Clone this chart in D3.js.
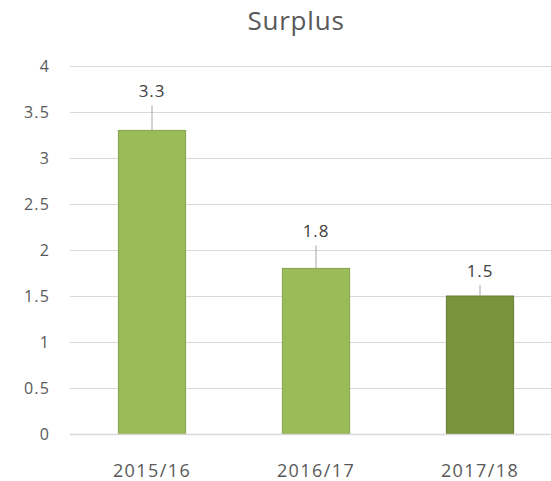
<!DOCTYPE html>
<html><head><meta charset="utf-8">
<script src="https://cdn.jsdelivr.net/npm/d3@7"></script>
<style>body{margin:0;background:#fff}svg{display:block}text{font-family:"Open Sans",sans-serif}</style>
</head><body>
<svg id="chart" width="551" height="481"></svg>
<script>
const categories = ["2015/16", "2016/17", "2017/18"];
const values = [3.3, 1.8, 1.5];
const yTicks = [0, 0.5, 1, 1.5, 2, 2.5, 3, 3.5, 4];
const barColors = ["#9BBB59", "#9BBB59", "#77933C"];
const labelLift = [33, 31, 19];

const FONT = "'Open Sans',sans-serif";
const svg = d3.select("#chart");
const x = d3.scaleBand().domain(categories).range([70, 562]).paddingInner(0.59).paddingOuter(0.295);
const y = d3.scaleLinear().domain([0, 4]).range([434, 66]);

svg.append("text").attr("x", 296).attr("y", 30).attr("text-anchor", "middle")
  .attr("font-size", 26).attr("letter-spacing", 0.8).attr("fill", "#595959").text("Surplus");

const grid = svg.append("g").attr("transform", "translate(70,0)")
  .call(d3.axisLeft(y).tickValues(yTicks).tickSize(-490).tickFormat(d3.format("~g")).tickPadding(20));
grid.select(".domain").remove();
grid.selectAll(".tick line").attr("stroke", "#d9d9d9").attr("stroke-width", 1.2);
grid.selectAll(".tick text").attr("font-size", 16).attr("letter-spacing", 1.2)
  .attr("fill", "#595959").attr("font-family", FONT);

svg.selectAll("rect.bar").data(values).join("rect").attr("class", "bar")
  .attr("x", (d, i) => x(categories[i])).attr("width", x.bandwidth())
  .attr("y", d => y(d)).attr("height", d => y(0) - y(d))
  .attr("fill", (d, i) => barColors[i])
  .attr("stroke", (d, i) => d3.color(barColors[i]).darker(0.4)).attr("stroke-width", 1);

const xa = svg.append("g").attr("transform", "translate(0,434)")
  .call(d3.axisBottom(x).tickSize(0).tickPadding(30));
xa.select(".domain").attr("stroke", "#d9d9d9").attr("stroke-width", 1.5).attr("d", "M70,0.5H551");
xa.selectAll(".tick text").attr("font-size", 18).attr("letter-spacing", 1.4)
  .attr("fill", "#595959").attr("font-family", FONT);

values.forEach((v, i) => {
  const cx = x(categories[i]) + x.bandwidth() / 2;
  const ty = y(v) - labelLift[i];
  svg.append("text").attr("x", cx).attr("y", ty).attr("text-anchor", "middle")
    .attr("font-size", 17).attr("letter-spacing", 0.8).attr("fill", "#404040").text(v.toFixed(1));
  svg.append("line").attr("x1", cx).attr("x2", cx).attr("y1", ty + 8).attr("y2", y(v))
    .attr("stroke", "#a6a6a6").attr("stroke-width", 1);
});
</script>
</body></html>
